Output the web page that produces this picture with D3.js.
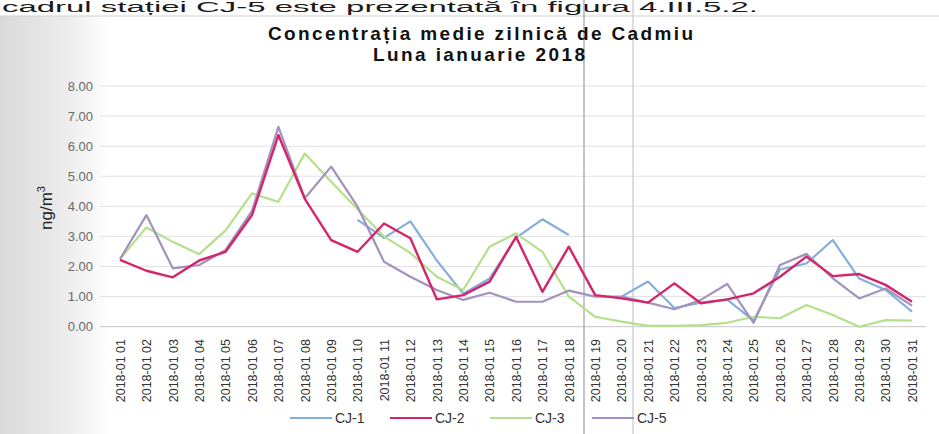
<!DOCTYPE html>
<html>
<head>
<meta charset="utf-8">
<script src="https://cdn.jsdelivr.net/npm/d3@7"></script>
<style>
  html, body { margin: 0; padding: 0; background: #fff; }
  svg { display: block; }
</style>
</head>
<body>
<script>
const W = 939, H = 434;

// Days of January 2018, as printed under the axis
const days = d3.range(1, 32).map((d) => "2018-01 " + String(d).padStart(2, "0"));
const yTicks = [0, 1, 2, 3, 4, 5, 6, 7, 8];
const seriesNames = ["CJ-1", "CJ-2", "CJ-3", "CJ-5"];
const seriesColors = ["#86aedc", "#d6246a", "#b4e08c", "#a292bd"];

const cj1 = [null, null, null, null, null, null, null, null, null, 3.55, 2.95, 3.5, 2.2, 1.1, 1.6, 2.95, 3.57, 3.05,
  null, 1.0, 1.5, 0.62, 0.8, 0.9, 0.2, 1.9, 2.1, 2.88, 1.6, 1.22, 0.5];
const cj2 = [2.22, 1.86, 1.64, 2.2, 2.49, 3.71, 6.37, 4.25, 2.88, 2.49, 3.43, 2.94, 0.91, 1.05, 1.5, 2.99, 1.16, 2.66,
  1.05, 0.94, 0.8, 1.44, 0.78, 0.91, 1.11, 1.66, 2.33, 1.68, 1.75, 1.39, 0.83];
const cj3 = [2.25, 3.3, 2.82, 2.41, 3.2, 4.43, 4.15, 5.76, 4.82, 3.9, 3.0, 2.45, 1.66, 1.22, 2.66, 3.1, 2.49, 1.0,
  0.33, 0.17, 0.03, 0.03, 0.05, 0.13, 0.33, 0.28, 0.72, 0.39, 0.0, 0.22, 0.2];
const cj5 = [2.25, 3.71, 1.94, 2.05, 2.55, 3.85, 6.64, 4.27, 5.32, 3.99, 2.16, 1.66, 1.22, 0.89, 1.13, 0.83, 0.83, 1.2,
  1.0, 1.0, 0.8, 0.58, 0.89, 1.42, 0.13, 2.05, 2.42, 1.61, 0.94, 1.27, 0.7];
const seriesValues = [cj1, cj2, cj3, cj5];

const svg = d3.select("body").append("svg").attr("width", W).attr("height", H);

// faint scan shading on the left edge
const defs = svg.append("defs");
const grad = defs.append("linearGradient").attr("id", "scan").attr("x1", 0).attr("x2", 1);
grad.append("stop").attr("offset", 0).attr("stop-color", "#d9d9d9");
grad.append("stop").attr("offset", 0.6).attr("stop-color", "#ececec");
grad.append("stop").attr("offset", 1).attr("stop-color", "#ffffff");
svg.append("rect").attr("x", 0).attr("y", 16).attr("width", 110).attr("height", H - 16).attr("fill", "url(#scan)");

// line of the page text above the chart
svg.append("text")
  .attr("x", 2).attr("y", 12)
  .attr("font-family", "Liberation Sans, Arial, sans-serif")
  .attr("font-size", 14)
  .attr("textLength", 756)
  .attr("lengthAdjust", "spacingAndGlyphs")
  .attr("fill", "#1a1a1a")
  .text("cadrul stației CJ-5 este prezentată în figura 4.III.5.2.");
svg.append("line").attr("x1", 0).attr("x2", W).attr("y1", 16).attr("y2", 16)
  .attr("stroke", "#d0d0d0").attr("stroke-width", 1);

const x = d3.scalePoint().domain(days).range([120, 912]);
const y = d3.scaleLinear().domain([0, 8]).range([326.7, 86]);

// gridlines
svg.append("g")
  .selectAll("line")
  .data(yTicks)
  .join("line")
  .attr("x1", 100).attr("x2", 926)
  .attr("y1", (d) => y(d)).attr("y2", (d) => y(d))
  .attr("stroke", (d) => (d === 0 ? "#c4c4c4" : "#e2e2e2"))
  .attr("stroke-width", 1);

// scanner streaks
svg.append("g")
  .selectAll("line")
  .data([[584, "#b0b0b8"], [633, "#d0d0d8"]])
  .join("line")
  .attr("x1", (d) => d[0]).attr("x2", (d) => d[0])
  .attr("y1", 0).attr("y2", H)
  .attr("stroke", (d) => d[1]).attr("stroke-width", 1.5);

// y axis
const yAxis = svg.append("g")
  .attr("transform", "translate(93,0)")
  .call(d3.axisLeft(y).tickValues(yTicks).tickFormat(d3.format(".2f")).tickSize(0).tickPadding(0));
yAxis.select(".domain").remove();
yAxis.selectAll("text")
  .attr("font-family", "Liberation Sans, Arial, sans-serif")
  .attr("font-size", 13)
  .attr("fill", "#6a6a6a");

svg.append("text")
  .attr("transform", "translate(52,208) rotate(-90)")
  .attr("text-anchor", "middle")
  .attr("font-family", "Liberation Sans, Arial, sans-serif")
  .attr("font-size", 17)
  .attr("fill", "#222")
  .call((t) => {
    t.append("tspan").text("ng/m");
    t.append("tspan").attr("dy", -7).attr("font-size", 11).text("3");
  });

// x axis labels
const xAxis = svg.append("g")
  .attr("transform", "translate(0,336)")
  .call(d3.axisBottom(x).tickSize(0).tickPadding(0));
xAxis.select(".domain").remove();
xAxis.selectAll("text")
  .attr("font-family", "Liberation Sans, Arial, sans-serif")
  .attr("font-size", 12.5)
  .attr("fill", "#333")
  .attr("text-anchor", "end")
  .attr("dy", "0.35em")
  .attr("transform", "rotate(-90) translate(-3,0)")
  .attr("y", 0);

// series lines
const line = d3.line()
  .defined((d) => d != null)
  .x((d, i) => x(days[i]))
  .y((d) => y(d));

const drawOrder = [0, 2, 3, 1];
svg.append("g")
  .attr("fill", "none")
  .attr("stroke-linejoin", "round")
  .selectAll("path")
  .data(drawOrder)
  .join("path")
  .attr("stroke", (k) => seriesColors[k])
  .attr("stroke-width", (k) => (k === 1 ? 2.4 : 2.2))
  .attr("d", (k) => line(seriesValues[k]));

// legend
const legendX = [290, 390, 490, 592];
const legend = svg.append("g")
  .selectAll("g")
  .data(seriesNames)
  .join("g")
  .attr("transform", (d, i) => `translate(${legendX[i]},418)`);
legend.append("line")
  .attr("x1", 0).attr("x2", 42)
  .attr("stroke", (d, i) => seriesColors[i])
  .attr("stroke-width", 2.2);
legend.append("text")
  .attr("x", 45).attr("dy", "0.35em")
  .attr("font-family", "Liberation Sans, Arial, sans-serif")
  .attr("font-size", 14)
  .attr("fill", "#333")
  .text((d) => d);

// title
const title = svg.append("g")
  .attr("font-family", "Liberation Sans, Arial, sans-serif")
  .attr("font-weight", "bold")
  .attr("font-size", 19)
  .attr("fill", "#111");
title.append("text").attr("x", 268).attr("y", 40)
  .attr("textLength", 425).attr("lengthAdjust", "spacing")
  .text("Concentrația medie zilnică de Cadmiu");
title.append("text").attr("x", 373).attr("y", 61)
  .attr("textLength", 212).attr("lengthAdjust", "spacing")
  .text("Luna ianuarie 2018");
</script>
</body>
</html>
